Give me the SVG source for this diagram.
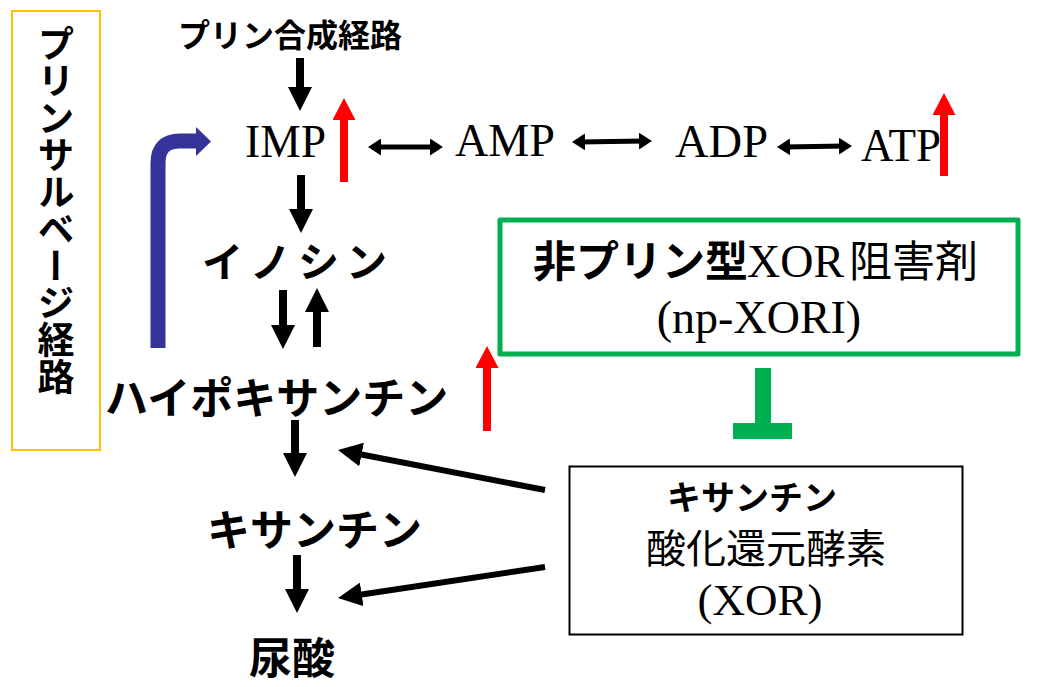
<svg xmlns="http://www.w3.org/2000/svg" width="1056" height="687" viewBox="0 0 1056 687">
<style>
.jp{font-family:"Noto Sans CJK JP","Noto Sans",sans-serif;fill:#000}
.b{font-weight:bold}
.tm{font-family:"Liberation Serif","Times New Roman",serif;fill:#000}
.blk{stroke:#000;stroke-width:8;fill:none}
.red{stroke:#FF0000;stroke-width:8;fill:none}
.dbl{stroke:#000;stroke-width:5;fill:none}
.diag{stroke:#000;stroke-width:6;fill:none}
</style>
<defs>
<marker id="ahB" viewBox="0 0 24 24" markerUnits="userSpaceOnUse" markerWidth="24" markerHeight="24" refX="12" refY="12" orient="auto"><path d="M0,0 L24,12 L0,24 z" fill="#000"/></marker>
<marker id="ahR" viewBox="0 0 22 23" markerUnits="userSpaceOnUse" markerWidth="22" markerHeight="23" refX="11" refY="11.5" orient="auto"><path d="M0,0 L22,11.5 L0,23 z" fill="#FF0000"/></marker>
<marker id="ahS" viewBox="0 0 13 17" markerUnits="userSpaceOnUse" markerWidth="13" markerHeight="17" refX="6.5" refY="8.5" orient="auto-start-reverse"><path d="M0,0 L13,8.5 L0,17 z" fill="#000"/></marker>
</defs>

<g id="salvage-box">
<rect x="12" y="11" width="88" height="439" fill="none" stroke="#FFC000" stroke-width="2"/>
<text class="jp b" x="56" y="25" font-size="37" style="writing-mode:vertical-rl">プリンサルベージ経路</text>
</g>

<g id="purine-synthesis"><text class="jp b" x="178" y="47" font-size="32">プリン合成経路</text></g>
<g id="imp"><text class="tm" x="245" y="157" font-size="46" textLength="81" lengthAdjust="spacingAndGlyphs">IMP</text></g>
<g id="amp"><text class="tm" x="455" y="156" font-size="46" textLength="100" lengthAdjust="spacingAndGlyphs">AMP</text></g>
<g id="adp"><text class="tm" x="675" y="157" font-size="46" textLength="93" lengthAdjust="spacingAndGlyphs">ADP</text></g>
<g id="atp"><text class="tm" x="861" y="161" font-size="46" textLength="80" lengthAdjust="spacingAndGlyphs">ATP</text></g>
<g id="inosine"><text class="jp b" x="202" y="277" font-size="41" letter-spacing="7">イノシン</text></g>
<g id="hypoxanthine"><text class="jp b" x="105" y="414" font-size="43">ハイポキサンチン</text></g>
<g id="xanthine"><text class="jp b" x="207" y="546" font-size="43">キサンチン</text></g>
<g id="uric-acid"><text class="jp b" x="249" y="674" font-size="43">尿酸</text></g>

<g id="np-xori">
<rect x="500" y="220" width="518" height="134" fill="none" stroke="#00B050" stroke-width="5" stroke-linejoin="round"/>
<text y="277" font-size="43"><tspan class="jp b" x="533">非プリン型</tspan><tspan class="tm" x="747" font-size="46">XOR</tspan><tspan class="jp" x="849">阻害剤</tspan></text>
<text class="tm" x="759" y="333" font-size="46" text-anchor="middle">(np-XORI)</text>
</g>

<g id="xor-enzyme">
<rect x="569.5" y="466.5" width="393" height="168" fill="none" stroke="#000" stroke-width="2"/>
<text class="jp b" x="752" y="510" font-size="34" text-anchor="middle">キサンチン</text>
<text class="jp" x="766" y="563" font-size="40" text-anchor="middle">酸化還元酵素</text>
<text class="tm" x="760" y="615" font-size="45" text-anchor="middle">(XOR)</text>
</g>

<g id="connectors">
<line class="blk" x1="300" y1="58" x2="300" y2="99" marker-end="url(#ahB)"/>
<line class="blk" x1="301" y1="175" x2="301" y2="221" marker-end="url(#ahB)"/>
<line class="blk" x1="283" y1="290" x2="283" y2="337" marker-end="url(#ahB)"/>
<line class="blk" x1="317" y1="347" x2="317" y2="300" marker-end="url(#ahB)"/>
<line class="blk" x1="295" y1="420" x2="295" y2="465" marker-end="url(#ahB)"/>
<line class="blk" x1="297" y1="555" x2="297" y2="601" marker-end="url(#ahB)"/>
<line class="diag" x1="545" y1="490" x2="349.8" y2="452.3" marker-end="url(#ahB)"/>
<line class="diag" x1="545" y1="567" x2="349.9" y2="596.2" marker-end="url(#ahB)"/>
<line class="dbl" x1="374.5" y1="147" x2="436.5" y2="147" marker-start="url(#ahS)" marker-end="url(#ahS)"/>
<line class="dbl" x1="578.5" y1="142" x2="645.5" y2="141" marker-start="url(#ahS)" marker-end="url(#ahS)"/>
<line class="dbl" x1="783.5" y1="147" x2="845.5" y2="146" marker-start="url(#ahS)" marker-end="url(#ahS)"/>
<line class="red" x1="344" y1="182" x2="344" y2="109" marker-end="url(#ahR)"/>
<line class="red" x1="944" y1="176" x2="944" y2="104" marker-end="url(#ahR)"/>
<line class="red" x1="487" y1="431" x2="487" y2="357" marker-end="url(#ahR)"/>
<path d="M158,348 V163 Q158,141 180,141 H197" fill="none" stroke="#333399" stroke-width="15"/>
<path d="M196,127 L211,141.5 L196,156 z" fill="#333399"/>
<g id="inhibit" fill="#00B050">
<rect x="755" y="368" width="16" height="57"/>
<rect x="733" y="423" width="59" height="16"/>
</g>
</g>
</svg>
